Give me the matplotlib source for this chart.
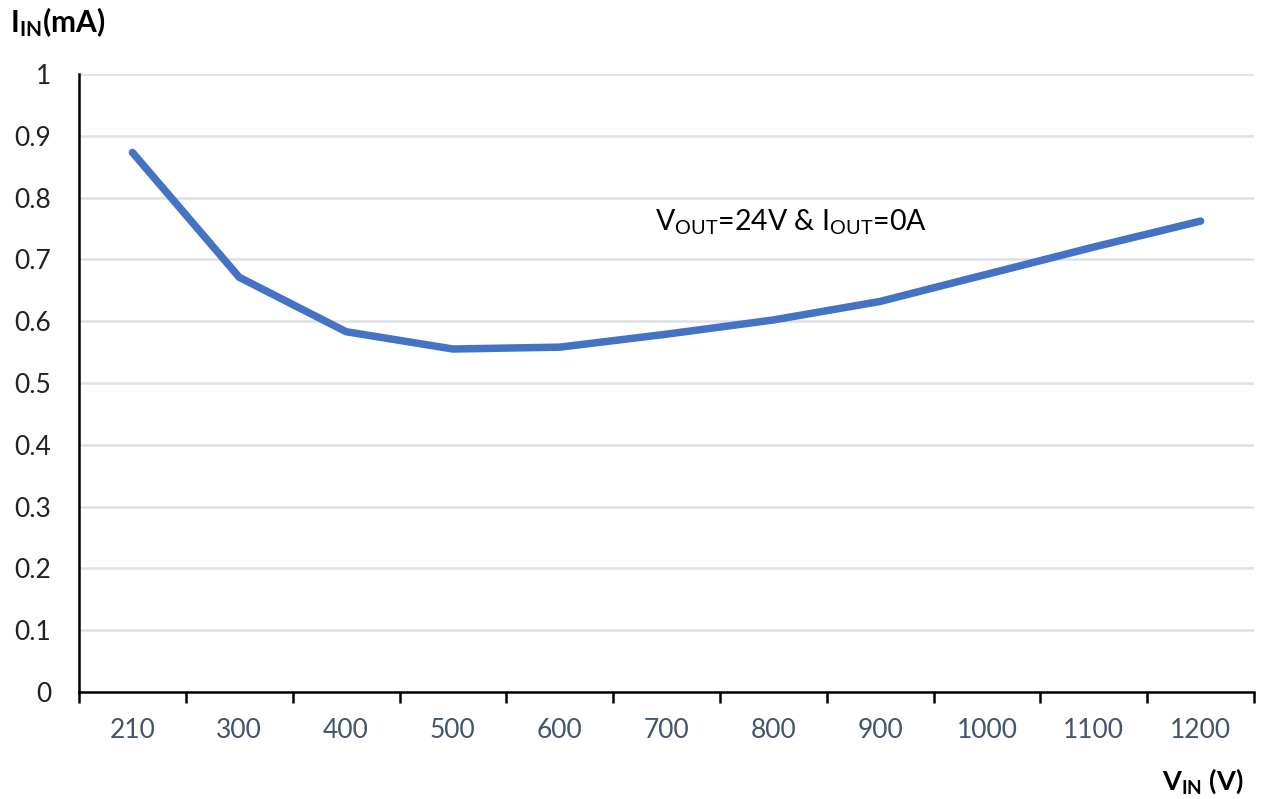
import numpy as np
import matplotlib
matplotlib.use("Agg")
import matplotlib.pyplot as plt

plt.rcParams['font.family'] = ['Lato', 'DejaVu Sans']
plt.rcParams['mathtext.fontset'] = 'custom'
plt.rcParams['mathtext.rm'] = 'Lato'
plt.rcParams['mathtext.it'] = 'Lato'
plt.rcParams['mathtext.bf'] = 'Lato:bold'

v_in = ['210', '300', '400', '500', '600', '700', '800', '900', '1000', '1100', '1200']
i_in = [0.873, 0.671, 0.583, 0.555, 0.558, 0.579, 0.602, 0.632, 0.676, 0.720, 0.762]
y_ticks = [0, 0.1, 0.2, 0.3, 0.4, 0.5, 0.6, 0.7, 0.8, 0.9, 1.0]
y_labels = ['0', '0.1', '0.2', '0.3', '0.4', '0.5', '0.6', '0.7', '0.8', '0.9', '1']

fig = plt.figure(figsize=(12.61, 7.99), dpi=100)
ax = fig.add_axes([0.0627, 0.1339, 0.9318, 0.7735])

x = np.arange(len(v_in))
ax.plot(x, i_in, color='#4472C4', lw=5.4, solid_capstyle='round', solid_joinstyle='round', zorder=3)

ax.set_xlim(-0.5, len(v_in) - 0.5)
ax.set_ylim(0, 1)
ax.set_yticks(y_ticks)
ax.set_yticklabels(y_labels)
ax.set_xticks(x)
ax.set_xticklabels(v_in)
ax.set_xticks(np.arange(len(v_in) + 1) - 0.5, minor=True)

ax.grid(axis='y', color='#DCE1E8', lw=1.8, zorder=0)
ax.set_axisbelow(True)

ax.tick_params(axis='x', which='major', length=0, pad=19, labelsize=19, labelcolor='#44546A')
ax.tick_params(axis='x', which='minor', length=8, width=1.8, color='black', direction='out')
ax.tick_params(axis='y', length=0, pad=20, labelsize=19, labelcolor='#222222')

for s in ['top', 'right']:
    ax.spines[s].set_visible(False)
ax.spines['left'].set_linewidth(1.8)
ax.spines['bottom'].set_linewidth(1.8)

ax.text(4.89, 0.76, r'V$_{\mathrm{OUT}}$=24V & I$_{\mathrm{OUT}}$=0A', fontsize=20.5,
        ha='left', va='center', color='black')

fig.text(0.008, 0.972, r'$\mathbf{I_{IN}}$(mA)', fontsize=21.5, fontweight='bold',
         ha='left', va='center')
fig.text(0.986, 0.022, r'$\mathbf{V_{IN}}$ (V)', fontsize=19.5, fontweight='bold',
         ha='right', va='center')

fig.savefig('out.png', dpi=100)
